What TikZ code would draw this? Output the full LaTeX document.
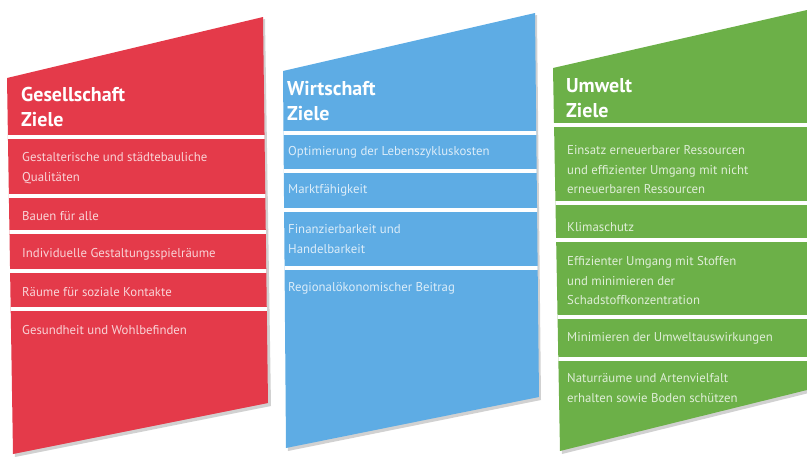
\documentclass[tikz,border=0pt]{standalone}
\usepackage{fontspec}
\setmainfont{PT Sans}
\usepackage{tikz}
\usetikzlibrary{positioning}

\definecolor{gesred}{RGB}{228,58,74}
\definecolor{wirblue}{RGB}{94,172,228}
\definecolor{umwgreen}{RGB}{108,176,72}

\begin{document}
\begin{tikzpicture}[
    x=1pt, y=-1pt,
    shade/.style={fill=black, opacity=0.18},
    head/.style={font=\fontsize{20}{24.5}\selectfont\bfseries, text=white, anchor=west, align=left, inner sep=0pt},
    item/.style={font=\fontsize{12.8}{19.5}\selectfont, text=white, text opacity=0.78, anchor=west, align=left, inner sep=0pt},
    sep/.style={white, line width=3.5pt}
]
    \useasboundingbox (0,0) rectangle (807,456);

    % Gesellschaft
    \fill[shade] (9,80) -- (265,19) -- (271,406) -- (15,457) -- cycle;
    \fill[gesred] (7,78) -- (263,17) -- (268,403) -- (13,454) -- cycle;
    \begin{scope}
        \clip (7,78) -- (263,17) -- (268,403) -- (13,454) -- cycle;
        \foreach \y in {137,196,232,271,309}
            \draw[sep] (0,\y) -- (280,\y);
    \end{scope}
    \node[head] (gesHead) at (21,107) {Gesellschaft\\Ziele};
    \node[item] (gesA) at (22,168) {Gestalterische und städtebauliche\\Qualitäten};
    \node[item] (gesB) at (22,216) {Bauen für alle};
    \node[item] (gesC) at (22,254) {Individuelle Gestaltungsspielräume};
    \node[item] (gesD) at (22,292) {Räume für soziale Kontakte};
    \node[item] (gesE) at (22,330) {Gesundheit und Wohlbefinden};

    % Wirtschaft
    \fill[shade] (285,73) -- (537,15) -- (541,400) -- (288,451) -- cycle;
    \fill[wirblue] (283,71) -- (535,13) -- (539,397) -- (286,448) -- cycle;
    \begin{scope}
        \clip (283,71) -- (535,13) -- (539,397) -- (286,448) -- cycle;
        \foreach \y in {133,171,210,268}
            \draw[sep] (270,\y) -- (550,\y);
    \end{scope}
    \node[head] (wirHead) at (287,101) {Wirtschaft\\Ziele};
    \node[item] (wirA) at (288,152) {Optimierung der Lebenszykluskosten};
    \node[item] (wirB) at (288,190) {Marktfähigkeit};
    \node[item] (wirC) at (288,239) {Finanzierbarkeit und\\Handelbarkeit};
    \node[item] (wirD) at (288,288) {Regionalökonomischer Beitrag};

    % Umwelt
    \fill[shade] (555,70) -- (809,12) -- (809,393) -- (562,454) -- cycle;
    \fill[umwgreen] (553,68) -- (807,10) -- (807,390) -- (560,451) -- cycle;
    \begin{scope}
        \clip (553,68) -- (807,10) -- (807,390) -- (560,451) -- cycle;
        \foreach \y in {125,203,240,317,359}
            \draw[sep] (540,\y) -- (810,\y);
    \end{scope}
    \node[head] (umwHead) at (566,98) {Umwelt\\Ziele};
    \node[item] (umwA) at (567,170) {Einsatz erneuerbarer Ressourcen\\und effizienter Umgang mit nicht\\erneuerbaren Ressourcen};
    \node[item] (umwB) at (567,227) {Klimaschutz};
    \node[item] (umwC) at (567,281) {Effizienter Umgang mit Stoffen\\und minimieren der\\Schadstoffkonzentration};
    \node[item] (umwD) at (567,338) {Minimieren der Umweltauswirkungen};
    \node[item] (umwE) at (567,388) {Naturräume und Artenvielfalt\\erhalten sowie Boden schützen};
\end{tikzpicture}
\end{document}
